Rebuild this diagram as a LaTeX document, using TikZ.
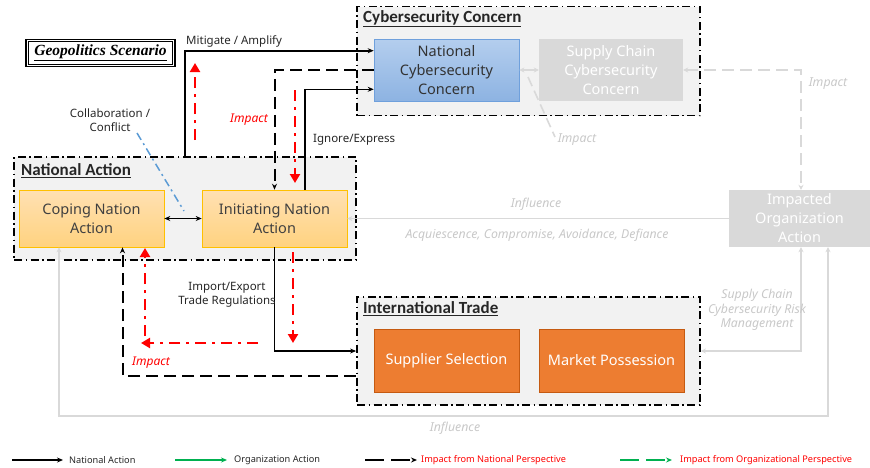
\documentclass[tikz,border=0pt]{standalone}
\usepackage{fontspec}
\setmainfont{Noto Sans}
\newfontfamily\titlefont{Carlito}
\newfontfamily\geofont{Liberation Serif}
\usetikzlibrary{arrows.meta,calc}
\definecolor{grpfill}{HTML}{F2F2F2}
\definecolor{lgline}{HTML}{D9D9D9}
\definecolor{lgtext}{HTML}{C8C8C8}
\definecolor{graybox}{HTML}{D9D9D9}
\definecolor{orgbox}{HTML}{ED7D31}
\definecolor{orgborder}{HTML}{C55A11}
\definecolor{yelborder}{HTML}{FFC000}
\definecolor{bluetop}{HTML}{B4CEEE}
\definecolor{bluebot}{HTML}{8DB3E2}
\definecolor{blueborder}{HTML}{6FA0DC}
\definecolor{colblue}{HTML}{5B9BD5}
\definecolor{legreen}{HTML}{00B050}
\begin{document}
\begin{tikzpicture}[x=1pt,y=-1pt,
  grp/.style={rectangle, draw=black, line width=1.8pt, dash pattern=on 8pt off 3.5pt on 1.5pt off 3.5pt, fill=grpfill, inner sep=0},
  grptitle/.style={font=\titlefont\bfseries\fontsize{17}{20}\selectfont, text=black!85, inner sep=0, anchor=west},
  boxbase/.style={rectangle, inner sep=0, align=center, font=\fontsize{14.5}{19}\selectfont, minimum width=145pt},
  bluebox/.style={boxbase, top color=bluetop, bottom color=bluebot, draw=blueborder, line width=0.6pt, text=black!80, minimum height=62pt},
  yelbox/.style={boxbase, top color=yellow!20!orange!30!white, bottom color=yellow!30!orange!50!white, draw=yelborder, line width=0.6pt, text=black!75, minimum height=57pt},
  greybox/.style={boxbase, fill=graybox, text=white},
  orbox/.style={boxbase, fill=orgbox, draw=orgborder, line width=0.5pt, text=white, minimum height=63pt},
  lbl/.style={font=\fontsize{11.5}{14}\selectfont, text=black!85, inner sep=0, align=center},
  glbl/.style={font=\itshape\fontsize{12.3}{14.5}\selectfont, text=lgtext, inner sep=0, align=center},
  rlbl/.style={font=\itshape\fontsize{12}{14}\selectfont, text=red, inner sep=0},
  natarr/.style={draw=black, line width=1.6pt, -{Stealth[length=6pt,width=5pt]}},
  natdash/.style={natarr, line width=2pt, dash pattern=on 12pt off 6pt},
  redarr/.style={draw=red, line width=2.8pt, dash pattern=on 11pt off 6pt on 3pt off 6pt, -{Triangle[length=9pt,width=10pt]}},
  grayarr/.style={draw=lgline, line width=1.6pt, -{Stealth[length=5pt,width=5pt]}},
  graydash/.style={grayarr, dash pattern=on 12pt off 6pt},
  legtxt/.style={font=\fontsize{9.2}{11}\selectfont, inner sep=0, anchor=west}
]
\useasboundingbox (0,0) rectangle (870,467);

% groups
\node[grp, minimum width=343pt, minimum height=109pt] (cyberG) at (528.5,61) {};
\node[grp, minimum width=342pt, minimum height=103pt] (natG) at (185,208.5) {};
\node[grp, minimum width=343pt, minimum height=108pt] (tradeG) at (528.5,351) {};

\node[grptitle] (cyberT) at (363,18.5) {\underline{Cybersecurity Concern}};
\node[grptitle] (natT) at (21,170.5) {\underline{National Action}};
\node[grptitle] (tradeT) at (363,308.5) {\underline{International Trade}};

% geopolitics box
\node[rectangle, draw=black, line width=1.6pt, minimum width=149pt, minimum height=27pt, inner sep=0,
  font=\geofont\bfseries\itshape\fontsize{15.5}{17}\selectfont] (geo) at (100.5,53) {\underline{Geopolitics Scenario}};
\draw[line width=0.8pt] ($(geo.north west)+(3,3)$) rectangle ($(geo.south east)+(-3,-3)$);

% boxes
\node[bluebox] (ncc) at (446.5,70) {National\\Cybersecurity\\Concern};
\node[greybox, minimum width=144pt, minimum height=62pt] (scc) at (611,70) {Supply Chain\\Cybersecurity\\Concern};
\node[yelbox] (coping) at (91.5,218.5) {Coping Nation\\Action};
\node[yelbox] (init) at (274.5,218.5) {Initiating Nation\\Action};
\node[orbox] (supplier) at (446.5,360.5) {Supplier Selection};
\node[orbox] (market) at (611.5,360.5) {Market Possession};
\node[greybox, minimum width=141pt, minimum height=57pt] (impacted) at (799.5,218.5) {Impacted\\Organization\\Action};

% national (black) connectors
\coordinate (mA) at (185,157);
\draw[natarr] (mA) |- ($(ncc.north west)+(0,12)$);
\node[lbl, anchor=west] (mitig) at (186,41) {Mitigate / Amplify};
\draw[natdash] (ncc.west) -| (init.north);
\draw[natarr] ($(init.north)+(30.5,0)$) |- ($(ncc.south west)+(0,-12)$);
\node[lbl, anchor=west] (ignore) at (313,140) {Ignore/Express};
\draw[draw=black, line width=1.6pt, {Stealth[length=6pt,width=5pt]}-{Stealth[length=6pt,width=5pt]}] (coping.east) -- (init.west);
\draw[natarr] (init.south) |- (tradeG.west);
\node[lbl] (imex) at (227,295) {Import/Export\\Trade Regulations};
\draw[natdash] ($(tradeG.west)+(0,24.5)$) -| ($(coping.south)+(31,0)$);

% collaboration
\coordinate (cA) at (137,133);
\coordinate (cB) at (184,211);
\draw[draw=colblue, line width=1.5pt, dash pattern=on 8pt off 4pt on 2pt off 4pt] (cA) -- (cB);
\node[lbl] (collab) at (110,120) {Collaboration /\\Conflict};

% red impact arrows
\coordinate (r1a) at (195,140);
\coordinate (r1b) at (195,63);
\draw[redarr] (r1a) -- (r1b);
\coordinate (r2a) at (295,90);
\coordinate (r2b) at (295,183);
\draw[redarr] (r2a) -- (r2b);
\node[rlbl] (imp1) at (249,120) {Impact};
\coordinate (r3a) at (293,252);
\coordinate (r3b) at (293,343);
\draw[redarr] (r3a) -- (r3b);
\coordinate (r4a) at (258,343);
\coordinate (r4b) at (141,343);
\draw[redarr] (r4a) -- (r4b);
\coordinate (r5a) at (145,336);
\coordinate (r5b) at (145,248);
\draw[redarr] (r5a) -- (r5b);
\node[rlbl] (imp2) at (151,363) {Impact};

% organizational (gray) connectors
\draw[grayarr, {Stealth[length=5pt,width=5pt]}-{Stealth[length=5pt,width=5pt]}] (ncc.east) -- (scc.west);
\coordinate (gA) at (528,77);
\coordinate (gB) at (555,137);
\draw[draw=lgline, line width=1.6pt, dash pattern=on 10pt off 5pt] (gA) -- (gB);
\node[glbl] (gimp1) at (577,140) {Impact};
\draw[graydash, {Stealth[length=5pt,width=5pt]}-{Stealth[length=5pt,width=5pt]}] (scc.east) -| ($(impacted.north)+(1.5,0)$);
\node[glbl] (gimp2) at (828,84) {Impact};
\draw[grayarr] (impacted.west) -- (init.east);
\node[glbl] (infl1) at (536,204) {Influence};
\node[glbl] (acq) at (537,235) {Acquiescence, Compromise, Avoidance, Defiance};
\draw[grayarr, {Stealth[length=5pt,width=5pt]}-{Stealth[length=5pt,width=5pt]}] ($(impacted.south)+(1.5,0)$) |- (tradeG.east);
\node[glbl] (scrm) at (757,310) {Supply Chain\\Cybersecurity Risk\\Management};
\draw[grayarr, {Stealth[length=5pt,width=5pt]}-{Stealth[length=5pt,width=5pt]}] ($(impacted.south)+(28.5,0)$) -- ++(0,169) -| ($(coping.south)+(-32.5,0)$);
\node[glbl] (infl2) at (455,428) {Influence};

% legend
\coordinate (l1a) at (12,460); \coordinate (l1b) at (63,460);
\draw[natarr, line width=1.4pt] (l1a) -- (l1b);
\node[legtxt, text=black!85] (lt1) at (69,460) {National Action};
\coordinate (l2a) at (175,460); \coordinate (l2b) at (227,460);
\draw[draw=legreen, line width=1.4pt, -{Stealth[length=6pt,width=5pt]}] (l2a) -- (l2b);
\node[legtxt, text=black!85] (lt2) at (234,460) {Organization Action};
\coordinate (l3a) at (365,460); \coordinate (l3b) at (417,460);
\draw[natarr, line width=1.4pt, dash pattern=on 19pt off 7pt] (l3a) -- (l3b);
\node[legtxt, text=red] (lt3) at (421,460) {Impact from National Perspective};
\coordinate (l4a) at (620,460); \coordinate (l4b) at (672,460);
\draw[draw=legreen, line width=1.4pt, dash pattern=on 19pt off 7pt, -{Stealth[length=6pt,width=5pt]}] (l4a) -- (l4b);
\node[legtxt, text=red] (lt4) at (680,460) {Impact from Organizational Perspective};
\end{tikzpicture}
\end{document}
